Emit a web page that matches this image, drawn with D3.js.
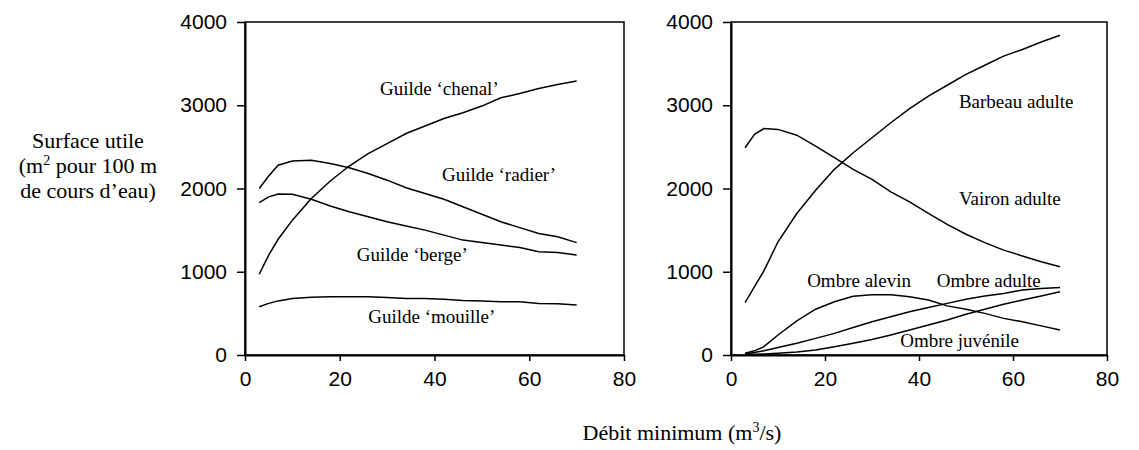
<!DOCTYPE html>
<html>
<head>
<meta charset="utf-8">
<script src="https://cdn.jsdelivr.net/npm/d3@7"></script>
<style>
  body { margin: 0; background: #fff; }
  .tick text { font-family: "Liberation Sans", Arial, sans-serif; font-size: 21px; fill: #000; }
  .serif { font-family: "Liberation Serif", "Times New Roman", serif; fill: #000; }
</style>
</head>
<body>
<div id="chart"></div>
<script>
// flows (m3/s) at which the curves were read
const flows = [3, 5, 7, 10, 14, 18, 22, 26, 30, 34, 38, 42, 46, 50, 54, 58, 62, 66, 70];

// left panel: guilds
const chenal  = [970, 1200, 1390, 1620, 1880, 2090, 2270, 2420, 2540, 2660, 2750, 2840, 2910, 2990, 3090, 3140, 3200, 3250, 3290];
const radier  = [2000, 2150, 2280, 2330, 2340, 2300, 2250, 2180, 2100, 2010, 1940, 1870, 1780, 1690, 1600, 1530, 1460, 1420, 1350];
const berge   = [1830, 1900, 1935, 1930, 1870, 1790, 1720, 1660, 1600, 1550, 1500, 1440, 1380, 1350, 1320, 1290, 1240, 1230, 1200];
const mouille = [580, 620, 650, 680, 695, 700, 700, 700, 690, 680, 680, 670, 655, 650, 640, 640, 620, 615, 600];

// right panel: species
const barbeau  = [630, 820, 1010, 1360, 1700, 1980, 2230, 2430, 2610, 2790, 2960, 3110, 3240, 3370, 3480, 3590, 3670, 3760, 3840];
const vairon   = [2490, 2650, 2720, 2710, 2640, 2510, 2370, 2230, 2110, 1960, 1840, 1700, 1570, 1450, 1350, 1260, 1190, 1120, 1060];
const alevin   = [20, 50, 100, 240, 410, 550, 640, 705, 725, 725, 700, 660, 590, 550, 500, 440, 400, 350, 300];
const ombreAdulte = [15, 30, 50, 90, 140, 200, 260, 330, 400, 460, 520, 570, 620, 670, 710, 740, 780, 800, 810];
const juvenile = [5, 8, 12, 20, 35, 60, 100, 140, 185, 240, 300, 360, 420, 490, 550, 610, 660, 710, 760];

const xTicks = [0, 20, 40, 60, 80];
const yTicks = [0, 1000, 2000, 3000, 4000];

// curve labels, anchored in data units
const leftLabels = [
  { text: "Guilde \u2018chenal\u2019", x: 28.5, y: 3123 },
  { text: "Guilde \u2018radier\u2019", x: 41.6, y: 2090 },
  { text: "Guilde \u2018berge\u2019", x: 23.6, y: 1129 },
  { text: "Guilde \u2018mouille\u2019", x: 26, y: 384 }
];
const rightLabels = [
  { text: "Barbeau adulte", x: 48.5, y: 2964 },
  { text: "Vairon adulte", x: 48.5, y: 1802 },
  { text: "Ombre alevin", x: 16.2, y: 820 },
  { text: "Ombre adulte", x: 43.8, y: 820 },
  { text: "Ombre juv\u00e9nile", x: 36, y: 102 }
];

const svg = d3.select("#chart").append("svg")
  .attr("width", 1139)
  .attr("height", 450);

function drawPanel(box, series, labels) {
  const x = d3.scaleLinear().domain([0, 80]).range([box.left, box.right]);
  const y = d3.scaleLinear().domain([0, 4000]).range([box.bottom, box.top]);

  const g = svg.append("g");

  // frame
  g.append("rect")
    .attr("x", box.left).attr("y", box.top)
    .attr("width", box.right - box.left).attr("height", box.bottom - box.top)
    .attr("fill", "none").attr("stroke", "#000").attr("stroke-width", 1.5);

  const xAxis = g.append("g")
    .attr("transform", `translate(0,${box.bottom})`)
    .call(d3.axisBottom(x).tickValues(xTicks).tickFormat(d3.format("d"))
      .tickSize(6).tickSizeOuter(0).tickPadding(10));
  const yAxis = g.append("g")
    .attr("transform", `translate(${box.left},0)`)
    .call(d3.axisLeft(y).tickValues(yTicks).tickFormat(d3.format("d"))
      .tickSize(8).tickSizeOuter(0).tickPadding(10));
  [xAxis, yAxis].forEach(a => {
    a.select(".domain").attr("stroke-width", 2);
    a.selectAll(".tick line").attr("stroke-width", 1.5);
  });

  const line = d3.line().x((d, i) => x(flows[i])).y(d => y(d));
  g.selectAll(".curve")
    .data(series)
    .join("path")
    .attr("class", "curve")
    .attr("d", line)
    .attr("fill", "none")
    .attr("stroke", "#000")
    .attr("stroke-width", 1.5);

  g.selectAll(".lbl")
    .data(labels)
    .join("text")
    .attr("class", "lbl serif")
    .attr("x", d => x(d.x))
    .attr("y", d => y(d.y))
    .attr("font-size", 19)
    .text(d => d.text);
}

drawPanel({ left: 245, right: 624, top: 22, bottom: 355 }, [chenal, radier, berge, mouille], leftLabels);
drawPanel({ left: 731, right: 1107, top: 22, bottom: 355 }, [barbeau, vairon, alevin, ombreAdulte, juvenile], rightLabels);

// y axis title
const yTitle = svg.append("text")
  .attr("class", "serif")
  .attr("font-size", 22)
  .attr("text-anchor", "middle");
yTitle.append("tspan").attr("x", 88).attr("y", 148).text("Surface utile");
const l2 = yTitle.append("tspan").attr("x", 88).attr("y", 173);
l2.append("tspan").text("(m");
l2.append("tspan").attr("dy", -8).attr("font-size", 14).text("2");
l2.append("tspan").attr("dy", 8).text(" pour 100 m");
yTitle.append("tspan").attr("x", 88).attr("y", 198).text("de cours d\u2019eau)");

// x axis title
const xTitle = svg.append("text")
  .attr("class", "serif")
  .attr("font-size", 22)
  .attr("text-anchor", "middle")
  .attr("x", 682)
  .attr("y", 440);
xTitle.append("tspan").text("D\u00e9bit minimum (m");
xTitle.append("tspan").attr("dy", -8).attr("font-size", 14).text("3");
xTitle.append("tspan").attr("dy", 8).text("/s)");
</script>
</body>
</html>
